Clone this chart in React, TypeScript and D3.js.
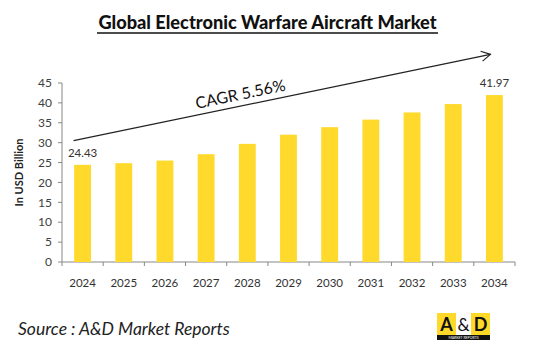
import React from 'react'
import * as d3 from 'd3'

const YEARS = ['2024', '2025', '2026', '2027', '2028', '2029', '2030', '2031', '2032', '2033', '2034']
const VALUES = [24.43, 24.85, 25.5, 27.1, 29.7, 32.0, 33.9, 35.8, 37.6, 39.7, 41.97]
const Y_TICKS = [0, 5, 10, 15, 20, 25, 30, 35, 40, 45]
const LABELED = ['2024', '2034']
const CAGR_TEXT = 'CAGR 5.56%'

const W = 550
const H = 359
const margin = { top: 83, right: 35, bottom: 97, left: 62 }
const FONT = 'Lato, "Open Sans", sans-serif'

export default function App() {
  const innerW = W - margin.left - margin.right
  const innerH = H - margin.top - margin.bottom

  const x = d3.scaleBand().domain(YEARS).range([0, innerW]).paddingInner(0.59).paddingOuter(0.295)
  const y = d3.scaleLinear().domain([0, 45]).range([innerH, 0])
  const step = x.step()

  // arrow from just above the first bar to past the last one
  const a0 = { x: x('2024')! + x.bandwidth() / 2 - 9, y: y(30.5) }
  const a1 = { x: x('2034')! + x.bandwidth() / 2 - 4, y: y(52.2) }
  const ang = (Math.atan2(a1.y - a0.y, a1.x - a0.x) * 180) / Math.PI
  const mid = { x: a0.x + (a1.x - a0.x) * 0.4, y: a0.y + (a1.y - a0.y) * 0.4 }

  return (
    <svg
      width={W}
      height={H}
      style={{ position: 'absolute', left: 0, top: 0, background: '#fff' }}
      fontFamily={FONT}
    >
      <text x={267.5} y={29} textAnchor="middle" fontSize={18.2} fontWeight={900} fill="#111">
        Global Electronic Warfare Aircraft Market
      </text>
      <line x1={97} x2={438} y1={33} y2={33} stroke="#111" strokeWidth={1.3} />

      <text
        transform={`translate(20,${margin.top + innerH / 2}) rotate(-90)`}
        textAnchor="middle"
        dominantBaseline="middle"
        fontSize={11}
        fontWeight="bold"
        fill="#222"
      >
        In USD Billion
      </text>

      <g transform={`translate(${margin.left},${margin.top})`}>
        {/* y axis */}
        <line x1={0} x2={0} y1={0} y2={innerH} stroke="#888" />
        {Y_TICKS.map((t) => (
          <g key={t} transform={`translate(0,${y(t)})`}>
            <line x1={-4} x2={0} stroke="#888" />
            <text x={-10} dy="0.35em" textAnchor="end" fontSize={12} fill="#404040">
              {t}
            </text>
          </g>
        ))}

        {/* x axis */}
        <line x1={0} x2={innerW} y1={innerH} y2={innerH} stroke="#888" />
        {d3.range(YEARS.length + 1).map((i) => (
          <line key={i} x1={i * step} x2={i * step} y1={innerH} y2={innerH + 4} stroke="#888" />
        ))}
        {YEARS.map((yr) => (
          <text
            key={yr}
            x={x(yr)! + x.bandwidth() / 2}
            y={innerH + 21}
            dy="0.35em"
            textAnchor="middle"
            fontSize={11.5}
            fill="#333"
          >
            {yr}
          </text>
        ))}

        {/* bars */}
        {YEARS.map((yr, i) => (
          <rect
            key={yr}
            x={x(yr)}
            y={y(VALUES[i])}
            width={x.bandwidth()}
            height={innerH - y(VALUES[i])}
            fill="#FFDA2C"
          />
        ))}

        {YEARS.map((yr, i) =>
          LABELED.includes(yr) ? (
            <text
              key={yr}
              x={x(yr)! + x.bandwidth() / 2}
              y={y(VALUES[i]) - 12}
              dy="0.35em"
              textAnchor="middle"
              fontSize={11.5}
              fill="#333"
            >
              {VALUES[i].toFixed(2)}
            </text>
          ) : null
        )}

        {/* CAGR arrow */}
        <line x1={a0.x} y1={a0.y} x2={a1.x} y2={a1.y} stroke="#222" strokeWidth={1.2} />
        <g transform={`translate(${a1.x},${a1.y}) rotate(${ang})`}>
          <path d="M-9,-5 L0,0 L-9,5" fill="none" stroke="#222" strokeWidth={1.2} />
        </g>
        <text
          transform={`translate(${mid.x},${mid.y - 12}) rotate(${ang})`}
          textAnchor="middle"
          dy="0.35em"
          fontSize={16}
          fill="#111"
        >
          {CAGR_TEXT}
        </text>
      </g>

      <text x={18} y={335} fontSize={17.5} fontStyle="italic" fill="#222">
        Source : A&amp;D Market Reports
      </text>

      {/* logo */}
      <g transform="translate(437,313)">
        <rect x={0} y={0} width={19} height={22} fill="#FFD92A" />
        <rect x={19} y={0} width={15} height={22} fill="#fff" />
        <rect x={34} y={0} width={19} height={22} fill="#FFD92A" />
        <rect x={0} y={22} width={53} height={5} fill="#111" />
        <text x={9.5} y={18} textAnchor="middle" fontSize={18} fontWeight="bold" fill="#111">A</text>
        <text x={26.5} y={18} textAnchor="middle" fontSize={17} fill="#111">&amp;</text>
        <text x={43.5} y={18} textAnchor="middle" fontSize={18} fontWeight="bold" fill="#111">D</text>
        <text x={26.5} y={26} textAnchor="middle" fontSize={3.5} fill="#fff">MARKET REPORTS</text>
      </g>
    </svg>
  )
}
